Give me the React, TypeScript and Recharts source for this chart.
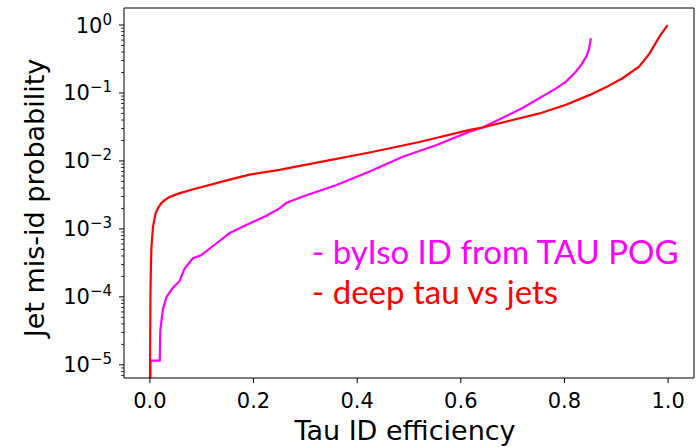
import { LineChart, Line, XAxis, YAxis, Legend, ReferenceLine } from 'recharts';

const DEEP_X = [0.0, 0.001, 0.002, 0.003, 0.006, 0.011, 0.016, 0.022, 0.03, 0.038, 0.055, 0.077, 0.141, 0.192, 0.25, 0.327, 0.424, 0.52, 0.617, 0.642, 0.7, 0.752, 0.803, 0.848, 0.88, 0.912, 0.944, 0.964, 0.983, 0.999];
const DEEP_Y = [3e-6, 1e-4, 3e-4, 5.5e-4, 1.08e-3, 1.7e-3, 2.05e-3, 2.4e-3, 2.7e-3, 2.95e-3, 3.3e-3, 3.7e-3, 5.0e-3, 6.3e-3, 7.4e-3, 9.6e-3, 1.33e-2, 1.9e-2, 2.86e-2, 3.1e-2, 4.0e-2, 5.0e-2, 6.7e-2, 9.3e-2, 0.121, 0.165, 0.244, 0.38, 0.67, 1.0];

const ISO_X = [0.001, 0.001, 0.019, 0.02, 0.025, 0.032, 0.044, 0.057, 0.067, 0.083, 0.099, 0.128, 0.154, 0.192, 0.224, 0.25, 0.263, 0.295, 0.359, 0.424, 0.488, 0.552, 0.617, 0.642, 0.719, 0.784, 0.803, 0.822, 0.832, 0.842, 0.847, 0.851];
const ISO_Y = [3e-6, 1.15e-5, 1.15e-5, 3.2e-5, 6.5e-5, 1.0e-4, 1.35e-4, 1.7e-4, 2.6e-4, 3.7e-4, 4.1e-4, 6.1e-4, 8.7e-4, 1.2e-3, 1.55e-3, 2.0e-3, 2.4e-3, 3.0e-3, 4.4e-3, 7.0e-3, 1.15e-2, 1.7e-2, 2.7e-2, 3.1e-2, 6.0e-2, 0.117, 0.147, 0.206, 0.258, 0.342, 0.43, 0.64];

const X_TICKS = [0, 0.2, 0.4, 0.6, 0.8, 1.0];
const Y_MAJOR = [-5, -4, -3, -2, -1, 0];

const deep = DEEP_X.map((x, i) => ({ x, y: DEEP_Y[i] }));
const iso = ISO_X.map((x, i) => ({ x, y: ISO_Y[i] }));

const X_MIN = -0.05;
const X_MAX = 1.05;
const Y_MIN = 6.4e-6;
const Y_MAX = 1.78;

// major + minor log ticks inside the domain
const yTicks: number[] = [];
for (let e = -6; e <= 0; e++) {
  for (let m = 1; m <= 9; m++) {
    const v = m * Math.pow(10, e);
    if (v >= Y_MIN && v <= Y_MAX) yTicks.push(v);
  }
}

const FONT = 'DejaVu Sans';

const LogTick = ({ x, y, payload }: any) => {
  const lv = Math.log10(payload.value);
  const e = Math.round(lv);
  const major = Math.abs(lv - e) < 1e-6 && Y_MAJOR.includes(e);
  return (
    <g>
      <line x1={x - (major ? 5 : 3)} x2={x} y1={y} y2={y} stroke="#000" strokeWidth={major ? 1 : 0.8} />
      {major && (
        <text x={x - 12} y={y + 7.5} textAnchor="end" fontSize={21} fontFamily={FONT} fill="#000">
          <tspan>10</tspan>
          <tspan dy={-8} fontSize={15}>{e === 0 ? '0' : '\u2212' + -e}</tspan>
        </text>
      )}
    </g>
  );
};

const LegendText = ({ payload }: any) => (
  <div>
    {(payload || []).map((p: any) => (
      <div
        key={p.value}
        style={{ color: p.color, fontFamily: 'Lato', fontSize: 33, lineHeight: '40px', whiteSpace: 'nowrap' }}
      >
        - {p.value}
      </div>
    ))}
  </div>
);

export default function App() {
  return (
    <div style={{ position: 'absolute', left: 0, top: 0 }}>
      <LineChart width={699} height={447} margin={{ top: 8, right: 5, left: 0, bottom: 0 }}>
        <XAxis
          type="number"
          dataKey="x"
          domain={[X_MIN, X_MAX]}
          ticks={X_TICKS}
          interval={0}
          allowDataOverflow
          tickFormatter={(v: number) => v.toFixed(1)}
          height={69}
          tickSize={5}
          tickMargin={10}
          tick={{ fontSize: 21, fontFamily: FONT, fill: '#000' }}
          stroke="#000"
          label={{
            content: () => (
              <text x={405} y={440} textAnchor="middle" fontSize={27} fontFamily={FONT} fill="#000">
                Tau ID efficiency
              </text>
            ),
          }}
        />
        <YAxis
          type="number"
          scale="log"
          domain={[Y_MIN, Y_MAX]}
          allowDataOverflow
          ticks={yTicks}
          interval={0}
          width={124}
          tickSize={0}
          tickMargin={0}
          tickLine={false}
          tick={<LogTick />}
          stroke="#000"
          label={{
            content: () => (
              <text
                x={44}
                y={198}
                transform="rotate(-90 44 198)"
                textAnchor="middle"
                fontSize={27}
                fontFamily={FONT}
                fill="#000"
              >
                Jet mis-id probability
              </text>
            ),
          }}
        />
        {/* top and right spines */}
        <ReferenceLine y={Y_MAX} stroke="#000" strokeWidth={1} ifOverflow="extendDomain" />
        <ReferenceLine x={X_MAX} stroke="#000" strokeWidth={1} ifOverflow="extendDomain" />
        <Legend
          verticalAlign="middle"
          align="center"
          layout="horizontal"
          wrapperStyle={{ position: 'absolute', left: 312, top: 231, width: 'auto' }}
          content={<LegendText />}
        />
        <Line
          data={iso}
          dataKey="y"
          name="byIso ID from TAU POG"
          type="linear"
          stroke="#ff00ff"
          strokeWidth={2.2}
          dot={false}
          isAnimationActive={false}
        />
        <Line
          data={deep}
          dataKey="y"
          name="deep tau vs jets"
          type="linear"
          stroke="#ff0000"
          strokeWidth={2.2}
          dot={false}
          isAnimationActive={false}
        />
      </LineChart>
    </div>
  );
}
